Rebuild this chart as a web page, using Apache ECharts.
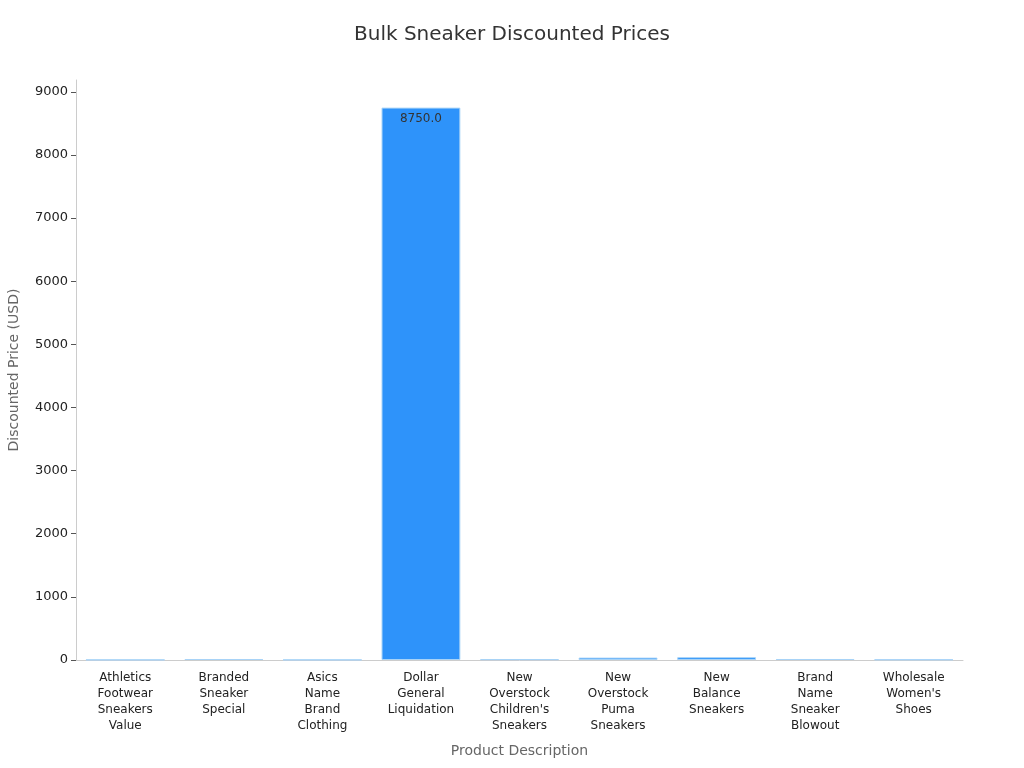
<!DOCTYPE html>
<html>
<head>
<meta charset="utf-8">
<script src="https://cdn.jsdelivr.net/npm/echarts@6/dist/echarts.min.js"></script>
<style>
html, body { margin: 0; padding: 0; background: #fff; }
#chart { width: 1024px; height: 768px; }
</style>
</head>
<body>
<div id="chart"></div>
<script>
var products = [
    "Athletics\nFootwear\nSneakers\nValue",
    "Branded\nSneaker\nSpecial",
    "Asics\nName\nBrand\nClothing",
    "Dollar\nGeneral\nLiquidation",
    "New\nOverstock\nChildren's\nSneakers",
    "New\nOverstock\nPuma\nSneakers",
    "New\nBalance\nSneakers",
    "Brand\nName\nSneaker\nBlowout",
    "Wholesale\nWomen's\nShoes"
];
var discountedPrices = [4, 15, 4, 8750, 12, 38, 45, 16, 8];

var myChart = echarts.init(document.getElementById('chart'));

var option = {
    textStyle: { fontFamily: 'DejaVu Sans' },
    title: {
        text: 'Bulk Sneaker Discounted Prices',
        left: 'center',
        top: 20,
        textStyle: { fontSize: 20, fontWeight: 'normal', color: '#333', fontFamily: 'DejaVu Sans' }
    },
    grid: { left: 76, right: 61, top: 80, bottom: 108, containLabel: false, outerBoundsMode: 'none' },
    xAxis: {
        type: 'category',
        data: products,
        name: 'Product Description',
        nameLocation: 'middle',
        nameGap: 84,
        nameTextStyle: { fontSize: 14, color: '#666' },
        axisLine: { lineStyle: { color: '#ccc' } },
        axisTick: { alignWithLabel: true, lineStyle: { color: '#555' } },
        axisLabel: { interval: 0, fontSize: 12, color: '#222', lineHeight: 16, margin: 10 }
    },
    yAxis: {
        type: 'value',
        min: 0,
        max: 9187.5,
        interval: 1000,
        name: 'Discounted Price (USD)',
        nameLocation: 'middle',
        nameGap: 55,
        nameTextStyle: { fontSize: 14, color: '#666' },
        axisLine: { show: true, lineStyle: { color: '#ccc' } },
        axisTick: { show: true, lineStyle: { color: '#555' } },
        splitLine: { show: false },
        axisLabel: {
            fontSize: 13,
            color: '#222',
            showMaxLabel: false,
            formatter: function (v) { return String(v); }
        }
    },
    series: [{
        type: 'bar',
        data: discountedPrices,
        barWidth: '80%',
        itemStyle: { color: '#2E93FA', borderColor: '#a8d3f7', borderWidth: 1 },
        label: {
            show: true,
            position: 'insideTop',
            fontSize: 12,
            color: '#333',
            formatter: function (p) { return p.value > 1000 ? p.value.toFixed(1) : ''; }
        }
    }]
};

myChart.setOption(option);
</script>
</body>
</html>
